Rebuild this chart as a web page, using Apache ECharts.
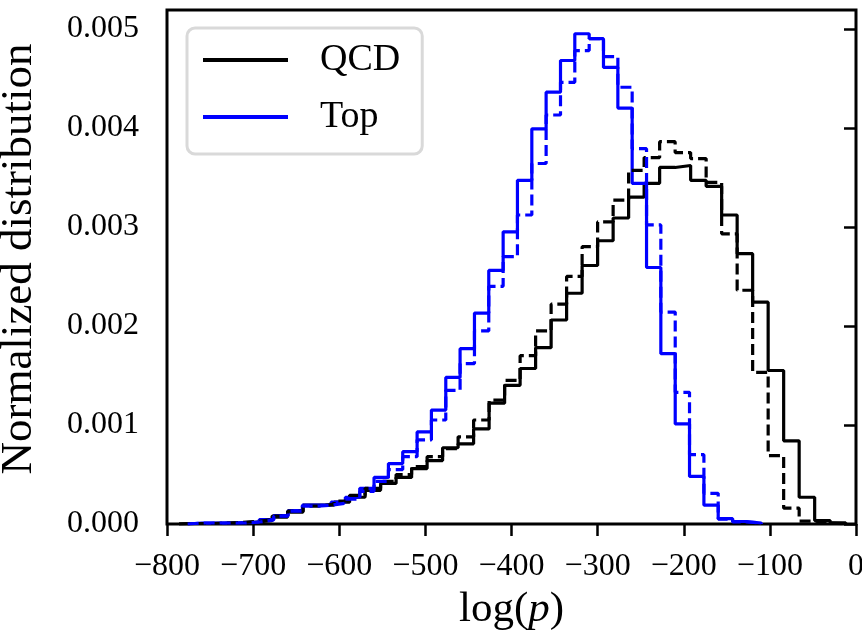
<!DOCTYPE html>
<html>
<head>
<meta charset="utf-8">
<script src="https://cdn.jsdelivr.net/npm/echarts@6/dist/echarts.min.js"></script>
<style>
  html, body { margin: 0; padding: 0; background: #fff; }
  #chart { width: 862px; height: 634px; }
</style>
</head>
<body>
<div id="chart"></div>
<script>
// histogram bin edges, log(p)
const qcdEdges = [-786, -768, -750, -732, -714, -696, -678, -660, -642, -624, -606, -588, -570, -552, -534,
  -516, -498, -480, -462, -444, -426, -408, -390, -372, -354, -336, -318, -300, -282, -264, -246, -228,
  -210, -192, -174, -156, -138, -120, -102, -84, -66, -48, -30, -12];
const topEdges = [-776, -759.4, -742.7, -726.1, -709.4, -692.8, -676.1, -659.5, -642.8, -626.2, -609.5,
  -592.9, -576.2, -559.6, -542.9, -526.3, -509.6, -493, -476.3, -459.7, -443, -426.4, -409.7, -393.1,
  -376.4, -359.8, -343.1, -326.5, -309.8, -293.2, -276.5, -259.9, -243.2, -226.6, -209.9, -193.3,
  -176.6, -160, -143.3, -126.7, -110];

// normalized counts per bin
const qcdSolid = [0.000005, 0.000005, 0.000008, 0.000012, 0.00002, 0.000035, 0.00007, 0.00012, 0.00019,
  0.00019, 0.00022, 0.00027, 0.00034, 0.00041, 0.00047, 0.00056, 0.00064, 0.00077, 0.00081, 0.00096,
  0.00122, 0.0014, 0.00157, 0.00178, 0.00206, 0.00233, 0.00261, 0.00286, 0.00309, 0.0033, 0.00344,
  0.0036, 0.00362, 0.00347, 0.00341, 0.00312, 0.00273, 0.00224, 0.00155, 0.00084, 0.00027, 0.000035,
  0.000012];
const qcdDashed = [0.000005, 0.000005, 0.000008, 0.000015, 0.000025, 0.000045, 0.00008, 0.00013, 0.00018,
  0.0002, 0.00023, 0.00029, 0.00036, 0.00043, 0.0005, 0.00058, 0.00068, 0.00076, 0.00088, 0.00105,
  0.00125, 0.00145, 0.0017, 0.00195, 0.00222, 0.0025, 0.0028, 0.00305, 0.00327, 0.00357, 0.0037,
  0.00386, 0.00375, 0.00369, 0.00345, 0.00293, 0.00236, 0.00153, 0.00069, 0.00016, 0.00003, 0.00001,
  0.000003];
const topSolid = [0.00001, 0.00001, 0.00001, 0.000015, 0.00002, 0.000045, 0.000085, 0.000135, 0.00019,
  0.00019, 0.00022, 0.00027, 0.00036, 0.00047, 0.00061, 0.00073, 0.00093, 0.00115, 0.00148, 0.00177,
  0.00213, 0.00256, 0.00295, 0.00347, 0.00399, 0.00436, 0.00468, 0.00495, 0.0049, 0.00461, 0.0042,
  0.00344, 0.00259, 0.00172, 0.00101, 0.00048, 0.00019, 0.000055, 0.000025, 0.00001];
const topDashed = [0.00001, 0.00001, 0.00001, 0.00001, 0.00002, 0.00004, 0.00008, 0.00013, 0.00018,
  0.00019, 0.00021, 0.00025, 0.00033, 0.00043, 0.00055, 0.00068, 0.00085, 0.00105, 0.00135, 0.00162,
  0.00195, 0.0024, 0.0027, 0.00312, 0.00364, 0.00413, 0.00446, 0.00478, 0.0049, 0.00472, 0.00441,
  0.00379, 0.00302, 0.00214, 0.00133, 0.0007, 0.00031, 0.00005, 0.00002, 0.00001];

const yTicks = [0, 0.001, 0.002, 0.003, 0.004, 0.005];

const serif = '"Liberation Serif", "DejaVu Serif", serif';

// matplotlib-style step outline: up at first edge, down at last edge
function stepPoints(edges, vals) {
  const pts = [[edges[0], 0]];
  vals.forEach((v, i) => pts.push([edges[i], v]));
  pts.push([edges[edges.length - 1], vals[vals.length - 1]]);
  pts.push([edges[edges.length - 1], 0]);
  return pts;
}

function hist(name, color, dashed, edges, vals) {
  return {
    name: name,
    type: 'line',
    step: 'end',
    data: stepPoints(edges, vals),
    showSymbol: false,
    symbol: 'none',
    lineStyle: { color: color, width: 3.2, type: dashed ? [11, 5] : 'solid' },
    itemStyle: { color: color },
    emphasis: { disabled: true }
  };
}

const chart = echarts.init(document.getElementById('chart'));
chart.setOption({
  animation: false,
  grid: {
    left: 167, right: 6, top: 10, bottom: 110,
    show: true, borderColor: '#000', borderWidth: 3,
    containLabel: false, outerBoundsMode: 'none'
  },
  legend: {
    data: ['QCD', 'Top'],
    orient: 'vertical',
    left: 187, top: 28,
    padding: [12, 22, 17, 14],
    itemWidth: 85, itemHeight: 20, itemGap: 17,
    backgroundColor: '#fff',
    borderColor: '#d9d9d9', borderWidth: 3, borderRadius: 8,
    itemStyle: { color: 'rgba(0,0,0,0)', borderWidth: 0 },
    lineStyle: { width: 4 },
    textStyle: { fontFamily: serif, fontSize: 38, lineHeight: 40, color: '#000', padding: [0, 0, 0, 27] }
  },
  xAxis: {
    type: 'value',
    min: -800, max: 0, interval: 100,
    name: 'log({i|p})',
    nameLocation: 'middle', nameGap: 62,
    nameTextStyle: {
      fontFamily: serif, fontSize: 43, color: '#000',
      rich: { i: { fontFamily: serif, fontSize: 43, fontStyle: 'italic', color: '#000' } }
    },
    axisLine: { show: false },
    axisTick: { show: true, length: 12, lineStyle: { color: '#000', width: 2.5 } },
    axisLabel: {
      fontFamily: serif, fontSize: 32, color: '#000', margin: 27,
      formatter: v => (v < 0 ? '\u2212' + Math.abs(v) : String(v))
    },
    splitLine: { show: false }
  },
  yAxis: {
    type: 'value',
    min: 0, max: 0.00519,
    name: 'Normalized distribution',
    nameLocation: 'middle', nameGap: 125,
    nameTextStyle: { fontFamily: serif, fontSize: 45, color: '#000', padding: [0, 0, 0, 16] },
    axisLine: { show: false },
    axisTick: { show: true, length: 12, customValues: yTicks, lineStyle: { color: '#000', width: 2.5 } },
    axisLabel: {
      fontFamily: serif, fontSize: 32, color: '#000', margin: 28,
      customValues: yTicks,
      formatter: v => v.toFixed(3)
    },
    splitLine: { show: false }
  },
  series: [
    hist('QCD', '#000000', false, qcdEdges, qcdSolid),
    hist('Top', '#0000ff', false, topEdges, topSolid),
    hist('QCD dashed', '#000000', true, qcdEdges, qcdDashed),
    hist('Top dashed', '#0000ff', true, topEdges, topDashed)
  ]
});
</script>
</body>
</html>
